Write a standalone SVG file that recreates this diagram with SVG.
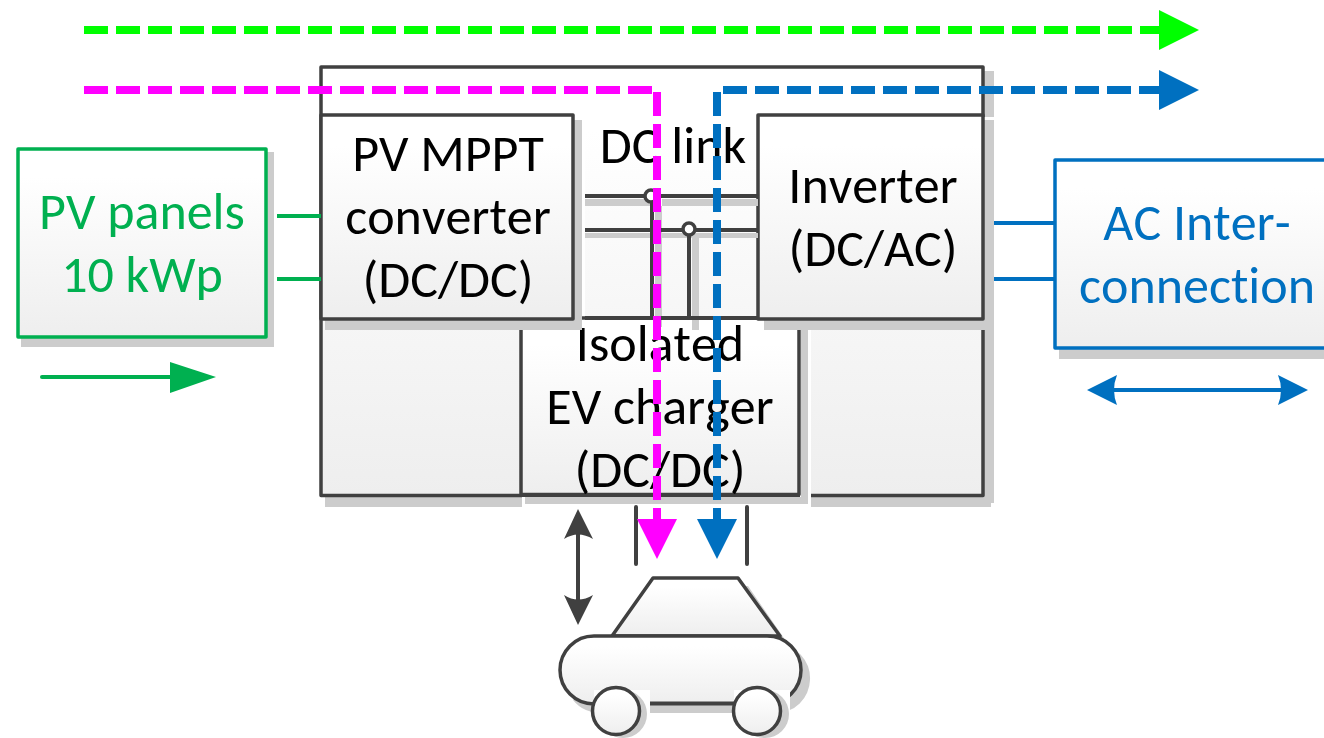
<svg xmlns="http://www.w3.org/2000/svg" width="1324" height="738" viewBox="0 0 1324 738">
<defs>
<linearGradient id="g" x1="0" y1="0" x2="0" y2="1"><stop offset="0" stop-color="#ffffff"/><stop offset="0.15" stop-color="#ffffff"/><stop offset="1" stop-color="#eeeeee"/></linearGradient>
</defs>
<style>
text{font-family:"Carlito","Lato",sans-serif;font-size:52px;text-anchor:middle;fill:#000;font-variant-ligatures:none;font-kerning:none}
.b{fill:url(#g);stroke:#404040;stroke-width:3.5;stroke-linejoin:round}
.s{fill:#cccccc}
.w{fill:#ffffff}
.d{fill:none;stroke-width:8;stroke-dasharray:24 8}
.gl{stroke:#00b050;stroke-width:4;fill:none}
.bl{stroke:#0070c0;stroke-width:4;fill:none}
.kl{stroke:#404040;stroke-width:4;fill:none}
</style>
<rect width="1324" height="738" fill="#fff"/>
<g id="dc-bus">
<rect class="s" x="984" y="71" width="10" height="432"/>
<rect class="s" x="325" y="497" width="666" height="10"/>
<rect class="b" x="321" y="67" width="662" height="428.500"/>
<rect class="w" x="800" y="326" width="11" height="184"/>
<rect class="w" x="522" y="497" width="289" height="13"/>
<rect class="w" x="582" y="117" width="3" height="213"/>
<rect class="w" x="984" y="117" width="10" height="3"/>
<rect class="w" x="984" y="327" width="10" height="3"/>
</g>
<g id="pv">
<rect class="s" x="21" y="152" width="253" height="195"/>
<rect x="18" y="149" width="248" height="188" fill="url(#g)" stroke="#00b050" stroke-width="3.500" stroke-linejoin="round"/>
<text x="142" y="229" style="fill:#00b050">PV panels</text>
<text x="142" y="292" style="fill:#00b050">10 kWp</text>
</g>
<g id="ac">
<rect class="s" x="1059" y="200" width="270" height="159"/>
<rect x="1055" y="160" width="275" height="188" fill="url(#g)" stroke="#0070c0" stroke-width="3.500" stroke-linejoin="round"/>
<text x="1197" y="240" style="fill:#0070c0">AC Inter-</text>
<text x="1197" y="303" style="fill:#0070c0">connection</text>
</g>
<g id="charger">
<rect class="s" x="525" y="497" width="283" height="7"/>
<rect class="s" x="801" y="326" width="7" height="178"/>
<rect class="b" x="521" y="318" width="278" height="176.500"/>
<text x="660" y="361">Isolated</text>
<text x="660" y="424">EV charger</text>
<text x="660" y="487">(DC/DC)</text>
</g>
<g id="mppt">
<rect class="s" x="325" y="120" width="257" height="210"/>
<rect class="b" x="321" y="115" width="252" height="204"/>
<text x="448" y="171">PV MPPT</text>
<text x="448" y="234">converter</text>
<text x="448" y="297">(DC/DC)</text>
</g>
<g id="inverter">
<rect class="s" x="764" y="120" width="230" height="210"/>
<rect class="b" x="758" y="115" width="225" height="204"/>
<text x="873" y="203">Inverter</text>
<text x="873" y="266">(DC/AC)</text>
</g>
<g id="dc-link"><text x="673" y="163">DC link</text></g>
<g id="car">
<path class="s" d="M621 644L661 586H748L788 644H776A34 34 0 0 1 810 680A34 34 0 0 1 776 713H602A34 34 0 0 1 573 700z"/>
<path class="b" d="M612 636L653 578H738L780 636z"/>
<rect class="b" x="560" y="636" width="241" height="68" rx="34"/>
<rect class="w" x="594" y="690" width="56" height="48"/>
<rect class="w" x="734" y="690" width="56" height="48"/>
<path class="s" d="M650 704H734V713H650z"/>
<circle class="s" cx="623" cy="714" r="24"/>
<circle class="s" cx="765" cy="714" r="24"/>
<path d="M650 703.500H734" class="kl"/>
<circle class="b" cx="616" cy="711" r="23.500"/>
<circle class="b" cx="757" cy="711" r="23.500"/>
</g>
<g id="connectors">
<path class="s" d="M585 199H655V206H585zM662 199H758V206H662zM585 233H758V238H585zM655 206H662V327H655zM692 236H699V330H692z"/>
<path class="gl" d="M277 216H321M277 279H321"/>
<path class="bl" d="M994 223H1055M994 279H1055"/>
<path class="kl" d="M585 196H758M585 230H758M585 318H758M652 196V318M689 230V318"/>
<circle cx="651" cy="196" r="6" fill="#fff" stroke="#404040" stroke-width="3.500"/>
<circle cx="689" cy="229" r="6" fill="#fff" stroke="#404040" stroke-width="3.500"/>
<path class="kl" stroke-linecap="round" d="M636 507V564M747 507V564"/>
<path class="gl" stroke-linecap="round" d="M42 377H172"/>
<path d="M170 362L216 377L170 393z" fill="#00b050"/>
<path class="bl" d="M1112 390H1283"/>
<path d="M1087 390L1117 375Q1111 390 1117 405zM1308 390L1278 375Q1284 390 1278 405z" fill="#0070c0"/>
<path class="kl" d="M578 532V602"/>
<path d="M578 509L593 539Q578 530 564 539zM578 625L593 595Q578 604 564 595z" fill="#404040"/>
<path class="d" stroke="#00ff00" d="M84 30H1160"/>
<path d="M1159 10L1199 30L1159 50z" fill="#00ff00"/>
<path class="d" stroke="#ff00ff" d="M84 90H652"/>
<path class="d" stroke="#ff00ff" d="M657 92V520"/>
<path d="M637 519H677L657 559z" fill="#ff00ff"/>
<path class="d" stroke="#0070c0" d="M717 92V520"/>
<path class="d" stroke="#0070c0" d="M723 90H1160"/>
<path d="M697 519H737L717 559z" fill="#0070c0"/>
<path d="M1159 70L1199 90L1159 110z" fill="#0070c0"/>
</g>
</svg>
